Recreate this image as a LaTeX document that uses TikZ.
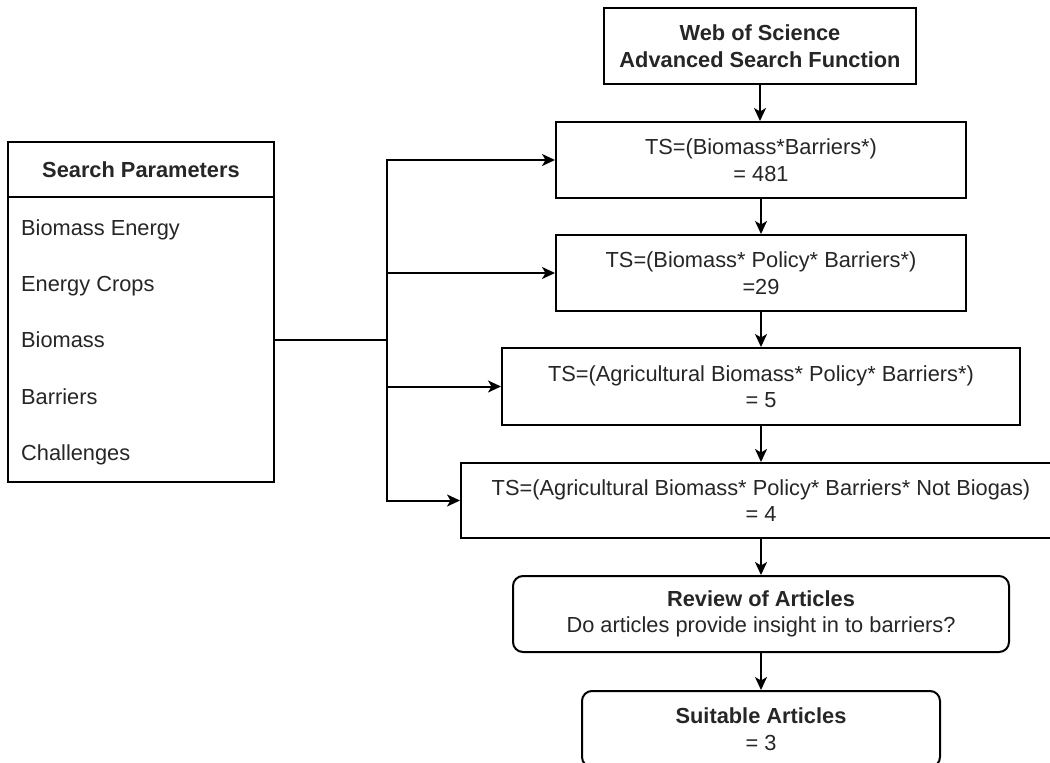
\documentclass[tikz,border=0pt]{standalone}
\usepackage{fontspec}
\setmainfont{Liberation Sans}
\usetikzlibrary{arrows.meta}
\begin{document}
\begin{tikzpicture}[x=1pt,y=-1pt,
  every node/.style={font=\fontsize{21.8}{26.5}\selectfont, text=black!85, inner sep=0pt},
  box/.style={draw=black, line width=2pt, align=center, minimum height=76pt},
  rbox/.style={box, rounded corners=10pt},
  arr/.style={draw=black, line width=2pt, -{Stealth[length=13pt,width=12pt,inset=3.5pt]}},
  link/.style={draw=black, line width=2pt},
  item/.style={anchor=west, text height=15.7pt, text depth=0pt}
]
\useasboundingbox (0,0) rectangle (1050,763);
\clip (0,0) rectangle (1050,763);
\fill[white] (0,0) rectangle (1050,763);

% search flow
\node[box, minimum width=312pt] (wos) at (760,46) {\textbf{Web of Science}\\\textbf{Advanced Search Function}};
\node[box, minimum width=410pt] (ts1) at (761,160) {TS=(Biomass*Barriers*)\\= 481};
\node[box, minimum width=410pt] (ts2) at (761,273) {TS=(Biomass* Policy* Barriers*)\\=29};
\node[box, minimum width=518pt, minimum height=77pt] (ts3) at (761,386.5) {TS=(Agricultural Biomass* Policy* Barriers*)\\= 5};
\node[box, minimum width=600pt, minimum height=75pt] (ts4) at (761,500.5) {TS=(Agricultural Biomass* Policy* Barriers* Not Biogas)\\= 4};
\node[rbox, minimum width=496pt] (rev) at (761,614) {\textbf{Review of Articles}\\Do articles provide insight in to barriers?};
\node[rbox, minimum width=358pt] (suit) at (761,729) {\textbf{Suitable Articles}\\= 3};

\draw[arr] (wos.south) -- (wos.south |- ts1.north);
\draw[arr] (ts1) -- (ts2);
\draw[arr] (ts2) -- (ts3);
\draw[arr] (ts3) -- (ts4);
\draw[arr] (ts4) -- (rev);
\draw[arr] (rev) -- (suit);

% search parameter list
\node[box, minimum width=266pt, minimum height=340pt] (params) at (141,312) {};
\draw[link] (params.north west) ++(0,56) -- ++(266,0);
\node (hdr) at (141,170) {\textbf{Search Parameters}};
\node[item] (p1) at (21,228) {Biomass Energy};
\node[item] (p2) at (21,284) {Energy Crops};
\node[item] (p3) at (21,340) {Biomass};
\node[item] (p4) at (21,397) {Barriers};
\node[item] (p5) at (21,453) {Challenges};

% distribution bus
\coordinate (junc) at (387,340);
\draw[link] (params.east |- junc) -- (junc);
\draw[arr] (junc) |- (ts1.west);
\draw[arr] (junc) |- (ts2.west);
\draw[arr] (junc) |- (ts3.west);
\draw[arr] (junc) |- (ts4.west);
\end{tikzpicture}
\end{document}
